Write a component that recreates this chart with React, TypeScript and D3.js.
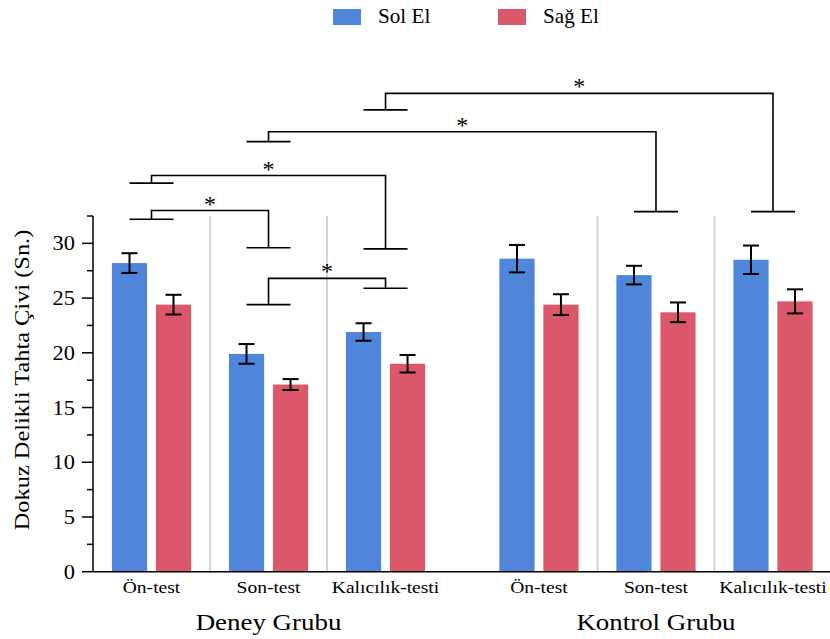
import React, { useEffect, useRef } from 'react';
import * as d3 from 'd3';

const groups = ['Deney Grubu', 'Kontrol Grubu'];
const tests = ['Ön-test', 'Son-test', 'Kalıcılık-testi'];
const series = ['Sol El', 'Sağ El'];
const colors = ['#4f86d9', '#db576a'];

// values in order: Deney (Ön, Son, Kalıcılık), Kontrol (Ön, Son, Kalıcılık)
const solMeans = [28.2, 19.9, 21.9, 28.6, 27.1, 28.5];
const solErr = [0.9, 0.9, 0.8, 1.25, 0.85, 1.3];
const sagMeans = [24.4, 17.1, 19.0, 24.4, 23.7, 24.7];
const sagErr = [0.9, 0.5, 0.8, 0.95, 0.9, 1.1];

const yTicks = [0, 5, 10, 15, 20, 25, 30];

// significance brackets: index into the 6 slots, heights in data units
const bracketFrom = [0, 0, 1, 1, 2];
const bracketTo = [1, 2, 2, 4, 5];
const bracketLeftCap = [32.2, 35.5, 24.4, 39.3, 42.2];
const bracketLine = [33.0, 36.2, 26.8, 40.2, 43.7];
const bracketRightCap = [29.6, 29.5, 25.9, 32.9, 32.9];
const bracketLabel = ['*', '*', '*', '*', '*'];

const W = 830;
const H = 639;
const FONT = '"Liberation Serif", "Times New Roman", serif';

// text is a bit wider in the original than plain Times, so stretch it horizontally
const addText = (parent, x, y, txt, size, sx, anchor = 'middle', rot = 0) => {
    parent.append('g')
        .attr('transform', `translate(${x},${y}) rotate(${rot}) scale(${sx},1)`)
        .append('text')
        .attr('text-anchor', anchor)
        .attr('font-family', FONT)
        .attr('font-size', size)
        .attr('fill', '#000')
        .text(txt);
};

const App = () => {
    const svgRef = useRef(null);

    useEffect(() => {
        const svg = d3.select(svgRef.current);
        svg.selectAll('*').remove();

        const x0 = 93;
        const groupX = d3.scaleBand().domain(groups).range([x0, 831.5]).paddingInner(0.094);
        const testX = d3.scaleBand().domain(tests).range([0, groupX.bandwidth()]);
        const seriesX = d3.scaleBand().domain(series).range([0, testX.bandwidth()])
            .paddingInner(0.2).paddingOuter(0.43);
        const y = d3.scaleLinear().domain([0, 32.5]).range([571.7, 216]);

        const slotStart = (i) => groupX(groups[Math.floor(i / 3)]) + testX(tests[i % 3]);
        const slotCenter = (i) => slotStart(i) + testX.bandwidth() / 2;

        // dividers between tests
        groups.forEach((g) => {
            tests.slice(1).forEach((t) => {
                const xx = groupX(g) + testX(t);
                svg.append('line')
                    .attr('x1', xx).attr('x2', xx)
                    .attr('y1', y(32.5)).attr('y2', y(0))
                    .attr('stroke', '#d6d6d6').attr('stroke-width', 2);
            });
        });

        // bars + error bars
        const allMeans = [solMeans, sagMeans];
        const allErr = [solErr, sagErr];
        series.forEach((s, si) => {
            allMeans[si].forEach((v, i) => {
                const bx = slotStart(i) + seriesX(s);
                svg.append('rect')
                    .attr('x', bx).attr('y', y(v))
                    .attr('width', seriesX.bandwidth())
                    .attr('height', y(0) - y(v))
                    .attr('fill', colors[si]);
                const cx = bx + seriesX.bandwidth() / 2;
                const e = allErr[si][i];
                const g = svg.append('g').attr('stroke', '#000').attr('stroke-width', 2);
                g.append('line').attr('x1', cx).attr('x2', cx).attr('y1', y(v + e)).attr('y2', y(v - e));
                g.append('line').attr('x1', cx - 8).attr('x2', cx + 8).attr('y1', y(v + e)).attr('y2', y(v + e));
                g.append('line').attr('x1', cx - 8).attr('x2', cx + 8).attr('y1', y(v - e)).attr('y2', y(v - e));
            });
        });

        // y axis
        svg.append('line')
            .attr('x1', x0).attr('x2', x0).attr('y1', y(32.5)).attr('y2', y(0))
            .attr('stroke', '#000').attr('stroke-width', 1.5);
        d3.range(0, 33, 2.5).forEach((t) => {
            const major = t % 5 === 0;
            svg.append('line')
                .attr('x1', x0 - (major ? 11 : 6)).attr('x2', x0)
                .attr('y1', y(t)).attr('y2', y(t))
                .attr('stroke', '#000').attr('stroke-width', 1.5);
        });
        yTicks.forEach((t) => {
            addText(svg, 75, y(t) + 7, t, 20, 1.12, 'end');
        });

        addText(svg, 29, 380, 'Dokuz Delikli Tahta Çivi (Sn.)', 20, 1.22, 'middle', -90);

        // x axis
        svg.append('line')
            .attr('x1', x0).attr('x2', W).attr('y1', y(0)).attr('y2', y(0))
            .attr('stroke', '#000').attr('stroke-width', 1.5);
        d3.range(6).forEach((i) => {
            addText(svg, slotCenter(i), 593, tests[i % 3], 17, 1.15);
        });
        groups.forEach((g) => {
            addText(svg, groupX(g) + groupX.bandwidth() / 2, 630, g, 23, 1.17);
        });

        // brackets
        bracketFrom.forEach((f, k) => {
            const xa = slotCenter(f);
            const xb = slotCenter(bracketTo[k]);
            const yl = y(bracketLine[k]);
            const ya = y(bracketLeftCap[k]);
            const yb = y(bracketRightCap[k]);
            const path = d3.path();
            path.moveTo(xa - 22, ya); path.lineTo(xa + 22, ya);
            path.moveTo(xa, ya); path.lineTo(xa, yl); path.lineTo(xb, yl); path.lineTo(xb, yb);
            path.moveTo(xb - 22, yb); path.lineTo(xb + 22, yb);
            svg.append('path')
                .attr('d', path.toString())
                .attr('fill', 'none')
                .attr('stroke', '#000').attr('stroke-width', 1.6);
            addText(svg, (xa + xb) / 2, yl + 1, bracketLabel[k], 24, 1);
        });

        // legend
        const legendX = [333, 498];
        series.forEach((s, si) => {
            svg.append('rect')
                .attr('x', legendX[si]).attr('y', 9)
                .attr('width', 28).attr('height', 16)
                .attr('fill', colors[si]);
            addText(svg, legendX[si] + 45, 23, s, 20, 1.06, 'start');
        });
    }, []);

    return (
        <svg ref={svgRef} width={W} height={H}
            style={{ position: 'absolute', left: 0, top: 0, background: '#fff' }} />
    );
};

export default App;
